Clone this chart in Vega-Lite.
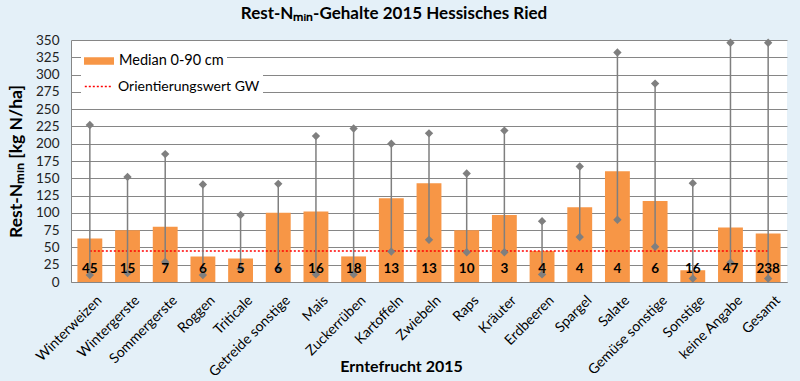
{
  "$schema": "https://vega.github.io/schema/vega-lite/v6.json",
  "width": 716,
  "height": 242,
  "autosize": "none",
  "padding": {"left": 71, "top": 40, "right": 13, "bottom": 99},
  "background": "#E4F0F8",
  "title": {"text": "Rest-Nₘᵢₙ-Gehalte 2015 Hessisches Ried", "font": "Lato", "fontSize": 17, "fontWeight": "bold", "color": "#000000", "anchor": "middle", "dx": -35, "offset": 10},
  "config": {
    "view": {"stroke": null, "fill": "white"},
    "font": "Lato",
    "axisY": {
      "titleFontSize": 17.5, "titleFontWeight": "bold", "titleColor": "#000000", "titleX": -46,
      "grid": true, "gridColor": "#868686", "gridWidth": 1,
      "ticks": false, "domainColor": "#868686",
      "labelFontSize": 13.5, "labelColor": "#222222", "labelPadding": 12, "labelOverlap": false
    }
  },
  "data": {"values": [
    {"cat": "Winterweizen", "median": 63, "min": 10, "max": 227, "n": 45},
    {"cat": "Wintergerste", "median": 75, "min": 13, "max": 152, "n": 15},
    {"cat": "Sommergerste", "median": 80, "min": 29, "max": 185, "n": 7},
    {"cat": "Roggen", "median": 37, "min": 10, "max": 141, "n": 6},
    {"cat": "Triticale", "median": 34, "min": 19, "max": 97, "n": 5},
    {"cat": "Getreide sonstige", "median": 100, "min": 19, "max": 142, "n": 6},
    {"cat": "Mais", "median": 102, "min": 11, "max": 211, "n": 16},
    {"cat": "Zuckerrüben", "median": 37, "min": 11, "max": 222, "n": 18},
    {"cat": "Kartoffeln", "median": 121, "min": 44, "max": 200, "n": 13},
    {"cat": "Zwiebeln", "median": 143, "min": 61, "max": 215, "n": 13},
    {"cat": "Raps", "median": 75, "min": 43, "max": 157, "n": 10},
    {"cat": "Kräuter", "median": 97, "min": 43, "max": 219, "n": 3},
    {"cat": "Erdbeeren", "median": 45, "min": 11, "max": 88, "n": 4},
    {"cat": "Spargel", "median": 108, "min": 65, "max": 167, "n": 4},
    {"cat": "Salate", "median": 160, "min": 90, "max": 332, "n": 4},
    {"cat": "Gemüse sonstige", "median": 117, "min": 51, "max": 287, "n": 6},
    {"cat": "Sonstige", "median": 17, "min": 5, "max": 143, "n": 16},
    {"cat": "keine Angabe", "median": 79, "min": 28, "max": 346, "n": 47},
    {"cat": "Gesamt", "median": 70, "min": 5, "max": 346, "n": 238}
  ]},
  "encoding": {
    "x": {
      "field": "cat", "type": "nominal", "sort": null,
      "scale": {"paddingInner": 0.34, "paddingOuter": 0.17},
      "axis": {
        "title": "Erntefrucht 2015", "titleFontSize": 16, "titleFontWeight": "bold", "titleColor": "#000000",
        "titleX": 330, "titleY": 76,
        "labelAngle": -45, "labelFontSize": 14, "labelColor": "#000000", "labelPadding": 11,
        "labelBaseline": "top", "labelOffset": 5,
        "ticks": false, "domainColor": "#868686", "domainWidth": 1
      }
    }
  },
  "layer": [
    {
      "mark": {"type": "bar"},
      "encoding": {
        "y": {
          "field": "median", "type": "quantitative",
          "scale": {"domain": [0, 350], "nice": false},
          "axis": {"title": "Rest-Nₘᵢₙ [kg N/ha]", "values": [0, 25, 50, 75, 100, 125, 150, 175, 200, 225, 250, 275, 300, 325, 350]}
        },
        "fill": {
          "datum": "Median 0-90 cm",
          "scale": {"range": ["#F79646"]},
          "legend": {
            "title": null, "orient": "none", "legendX": 10, "legendY": 3,
            "symbolType": "M-1,-0.25H1V0.25H-1Z", "symbolSize": 900, "symbolStrokeWidth": 0,
            "labelFontSize": 14.5, "labelColor": "#000000", "labelOffset": 5,
            "fillColor": "white", "padding": 3
          }
        }
      }
    },
    {
      "mark": {"type": "line", "strokeDash": [2, 2], "strokeWidth": 1.5},
      "encoding": {
        "y": {"datum": 45, "type": "quantitative", "axis": {"title": "Rest-Nₘᵢₙ [kg N/ha]", "values": [0, 25, 50, 75, 100, 125, 150, 175, 200, 225, 250, 275, 300, 325, 350]}},
        "stroke": {
          "datum": "Orientierungswert GW",
          "scale": {"range": ["#FF0000"]},
          "legend": {
            "title": null, "orient": "none", "legendX": 10, "legendY": 29,
            "symbolType": "stroke", "symbolSize": 750, "symbolDash": [2, 2], "symbolStrokeWidth": 1.5,
            "labelFontSize": 14, "labelColor": "#000000", "labelOffset": 5,
            "fillColor": "white", "padding": 3
          }
        }
      }
    },
    {
      "mark": {"type": "rule", "color": "#7F7F7F", "strokeWidth": 1.5},
      "encoding": {
        "y": {"field": "min", "type": "quantitative", "axis": {"title": "Rest-Nₘᵢₙ [kg N/ha]", "values": [0, 25, 50, 75, 100, 125, 150, 175, 200, 225, 250, 275, 300, 325, 350]}},
        "y2": {"field": "max"}
      }
    },
    {
      "mark": {"type": "point", "shape": "diamond", "filled": true, "color": "#7F7F7F", "size": 70, "opacity": 1},
      "encoding": {"y": {"field": "min", "type": "quantitative", "axis": {"title": "Rest-Nₘᵢₙ [kg N/ha]", "values": [0, 25, 50, 75, 100, 125, 150, 175, 200, 225, 250, 275, 300, 325, 350]}}}
    },
    {
      "mark": {"type": "point", "shape": "diamond", "filled": true, "color": "#7F7F7F", "size": 70, "opacity": 1},
      "encoding": {"y": {"field": "max", "type": "quantitative", "axis": {"title": "Rest-Nₘᵢₙ [kg N/ha]", "values": [0, 25, 50, 75, 100, 125, 150, 175, 200, 225, 250, 275, 300, 325, 350]}}}
    },
    {
      "mark": {"type": "text", "fontWeight": "bold", "fontSize": 13.5, "color": "#000000", "baseline": "middle"},
      "encoding": {
        "y": {"datum": 19, "type": "quantitative", "axis": {"title": "Rest-Nₘᵢₙ [kg N/ha]", "values": [0, 25, 50, 75, 100, 125, 150, 175, 200, 225, 250, 275, 300, 325, 350]}},
        "text": {"field": "n", "type": "quantitative"}
      }
    }
  ]
}
